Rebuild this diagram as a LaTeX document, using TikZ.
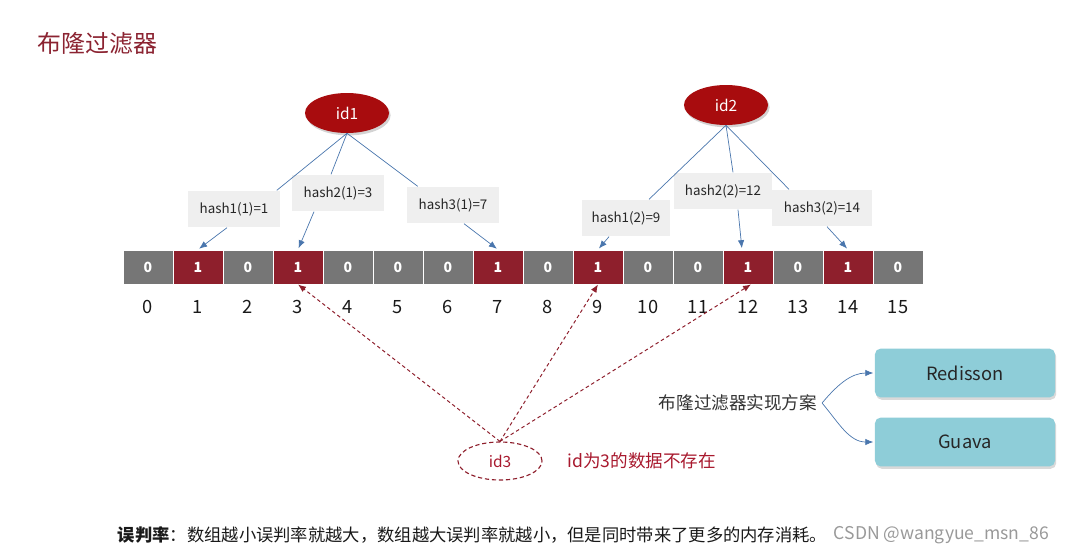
\documentclass[tikz,border=0pt]{standalone}
\usepackage{fontspec}
\setmainfont{Noto Sans CJK SC}
\usetikzlibrary{shapes.geometric, positioning, arrows.meta, calc, shadows}
\usepackage{xcolor}
\definecolor{cell0}{HTML}{767676}
\definecolor{cell1}{HTML}{8E1F2C}
\definecolor{idred}{HTML}{A80C0E}
\definecolor{titlered}{HTML}{8B2331}
\definecolor{missred}{HTML}{A8192E}
\definecolor{linkblue}{HTML}{4A76AD}
\definecolor{hashgray}{HTML}{EFEFEF}
\definecolor{implblue}{HTML}{8ECDD8}
\definecolor{txtgray}{HTML}{333333}

\begin{document}
\begin{tikzpicture}[
    x=0.025cm, y=-0.025cm,
    cell/.style={rectangle, draw=white, line width=0.6pt,
                 minimum width=1.25cm, minimum height=0.85cm, inner sep=0pt,
                 text=white, font=\fontsize{10}{11}\selectfont\bfseries},
    idx/.style={font=\fontsize{13}{15}\selectfont, text=black!90},
    idnode/.style={ellipse, fill=idred, text=white, minimum width=2.1cm,
                   minimum height=1cm, inner sep=0pt, font=\fontsize{11}{13}\selectfont,
                   drop shadow={opacity=0.35, shadow xshift=0.04cm, shadow yshift=-0.06cm}},
    hashbox/.style={rectangle, fill=hashgray, minimum height=0.92cm, inner sep=0pt,
                    font=\fontsize{9.5}{11}\selectfont, text=black!85},
    hashlink/.style={draw=linkblue, line width=0.5pt},
    arr/.style={hashlink, -{Latex[length=2mm, width=1.6mm]}, shorten >=1pt},
    probe/.style={draw=cell1, line width=0.7pt, dash pattern=on 2.5pt off 2pt,
                  -{Latex[length=2mm, width=1.6mm]}},
    implbox/.style={rectangle, rounded corners=4pt, fill=implblue,
                    minimum width=4.5cm, minimum height=1.22cm,
                    font=\fontsize{13}{15}\selectfont, text=black!85,
                    drop shadow={opacity=0.3, shadow xshift=0.03cm, shadow yshift=-0.06cm}}
]
\useasboundingbox (0,0) rectangle (1065,555);

\node[anchor=west, text=titlered, font=\fontsize{17}{20}\selectfont] (title) at (33,43) {布隆过滤器};

\node[idnode] (id1) at (347,113) {id1};
\node[idnode] (id2) at (726,105) {id2};

\node[hashbox, minimum width=2.275cm] (h11) at (234,209) {hash1(1)=1};
\node[hashbox, minimum width=2.275cm] (h21) at (338,193) {hash2(1)=3};
\node[hashbox, minimum width=2.3cm] (h31) at (453,205) {hash3(1)=7};
\node[hashbox, minimum width=2.175cm] (h12) at (626,218) {hash1(2)=9};
\node[hashbox, minimum width=2.425cm] (h22) at (723,191) {hash2(2)=12};
\node[hashbox, minimum width=2.475cm] (h32) at (822,208) {hash3(2)=14};

\foreach \v [count=\i from 0] in {0,1,0,1,0,0,0,1,0,1,0,0,1,0,1,0} {
    \node[cell, fill=cell\v] (c\i) at (148+50*\i,267) {\v};
    \node[idx] (n\i) at (148+50*\i,307) {\i};
}

\draw[hashlink] (id1.south) -- ([xshift=-0.075cm]h11.north east);
\draw[hashlink] (id1.south) -- ([xshift=-0.175cm]h21.north);
\draw[hashlink] (id1.south) -- ([xshift=0.275cm]h31.north west);
\draw[arr] ([xshift=-0.175cm]h11.south) -- (c1.north);
\draw[arr] ([xshift=-0.6cm]h21.south) -- (c3.north);
\draw[arr] ([xshift=0.275cm]h31.south) -- (c7.north);

\draw[hashlink] (id2.south) -- ([xshift=0.575cm]h12.north);
\draw[hashlink] (id2.south) -- ([xshift=0.25cm]h22.north);
\draw[hashlink] (id2.south) -- ([xshift=-0.825cm]h32.north);
\draw[arr] ([xshift=-0.425cm]h12.south) -- (c9.north);
\draw[arr] ([xshift=0.375cm]h22.south) -- ([xshift=-0.15cm]c12.north);
\draw[arr] ([xshift=0.125cm]h32.south) -- (c14.north);

\node[ellipse, draw=cell1, line width=0.8pt, dash pattern=on 3pt off 2pt,
      minimum width=2.1cm, minimum height=0.95cm, inner sep=0pt, text=missred,
      font=\fontsize{11}{13}\selectfont] (id3) at (500,461) {id3};
\node[right=0.5cm of id3, text=missred, font=\fontsize{12.5}{15}\selectfont] (miss) {id为3的数据不存在};

\draw[probe] (id3.north) -- (c3.south);
\draw[probe] (id3.north) -- (c9.south);
\draw[probe] (id3.north) -- ([xshift=0.075cm]c12.south);

\node[font=\fontsize{12.5}{15}\selectfont, text=txtgray] (impl) at (738,403) {布隆过滤器实现方案};
\node[implbox] (redis) at (965,373) {Redisson};
\node[implbox] (guava) at (965,442) {Guava};
\draw[arr] (impl.east) to[out=50, in=180] (redis.west);
\draw[arr] (impl.east) to[out=-50, in=180] (guava.west);

\node[anchor=west, font=\fontsize{12.3}{15}\selectfont, text=black!90] (note) at (113,535)
    {\textbf{误判率}：数组越小误判率就越大，数组越大误判率就越小，但是同时带来了更多的内存消耗。};
\node[anchor=west, text=black!40, font=\fontsize{12.5}{14}\selectfont, inner xsep=1pt] (mark) at (note.east) {CSDN @wangyue\_msn\_86};
\end{tikzpicture}
\end{document}
